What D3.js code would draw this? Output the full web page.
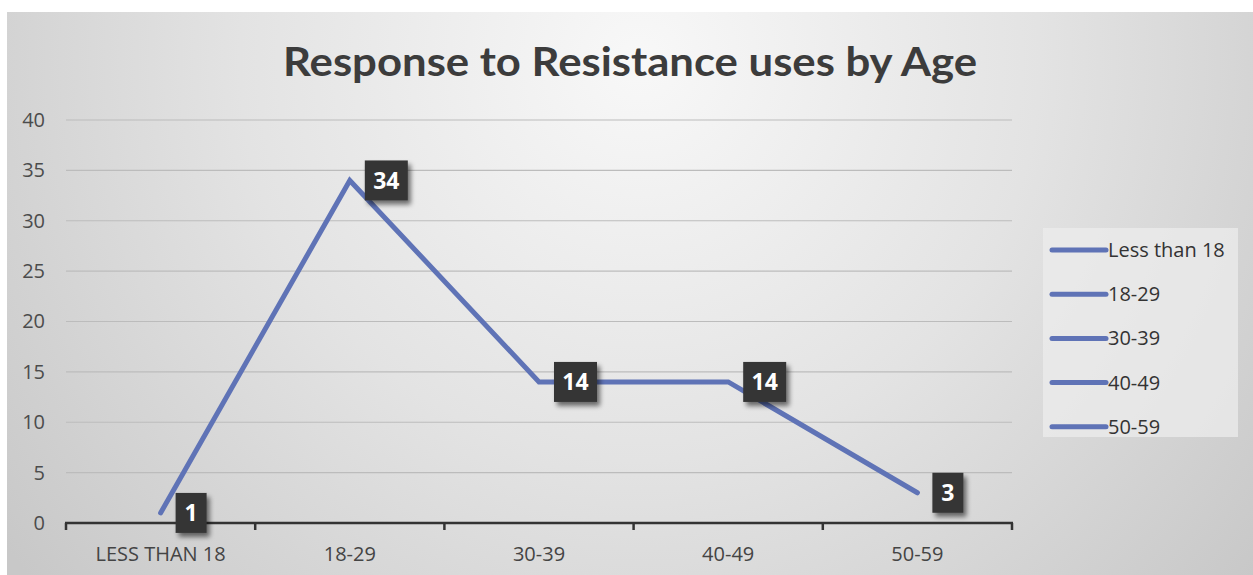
<!DOCTYPE html>
<html>
<head>
<meta charset="utf-8">
<script src="https://cdn.jsdelivr.net/npm/d3@7"></script>
<style>
  html, body { margin: 0; padding: 0; background: #ffffff; }
  svg { display: block; }
</style>
</head>
<body>
<svg id="chart" width="1253" height="575"></svg>
<script>
// Age groups and their counts
const categories = ["Less than 18", "18-29", "30-39", "40-49", "50-59"];
const values = [1, 34, 14, 14, 3];
const legendLabels = ["Less than 18", "18-29", "30-39", "40-49", "50-59"];
const yTicks = [0, 5, 10, 15, 20, 25, 30, 35, 40];
const chartTitle = "Response to Resistance uses by Age";

const W = 1253, H = 575;
const FONT = "'Open Sans', sans-serif";
const svg = d3.select("#chart");
const defs = svg.append("defs");

// Soft radial background
const bg = defs.append("radialGradient")
  .attr("id", "bgGrad")
  .attr("gradientUnits", "userSpaceOnUse")
  .attr("cx", 640).attr("cy", 60).attr("r", 800)
  .attr("fx", 640).attr("fy", 60);
bg.append("stop").attr("offset", "0").attr("stop-color", "#f8f8f8");
bg.append("stop").attr("offset", "0.5").attr("stop-color", "#e3e3e3");
bg.append("stop").attr("offset", "1").attr("stop-color", "#c8c8c8");

// Drop shadow for data labels
const shadow = defs.append("filter").attr("id", "lblShadow")
  .attr("x", "-30%").attr("y", "-30%").attr("width", "170%").attr("height", "170%");
shadow.append("feGaussianBlur").attr("in", "SourceAlpha").attr("stdDeviation", 2.5).attr("result", "b");
shadow.append("feOffset").attr("in", "b").attr("dx", 3).attr("dy", 4).attr("result", "o");
shadow.append("feComponentTransfer").attr("in", "o").attr("result", "s")
  .append("feFuncA").attr("type", "linear").attr("slope", 0.55);
const merge = shadow.append("feMerge");
merge.append("feMergeNode").attr("in", "s");
merge.append("feMergeNode").attr("in", "SourceGraphic");

svg.append("rect").attr("x", 7).attr("y", 12).attr("width", W - 7).attr("height", H - 12)
  .attr("fill", "url(#bgGrad)");

// Title
svg.append("text")
  .attr("x", 630).attr("y", 76)
  .attr("text-anchor", "middle")
  .attr("font-family", "Lato, 'Open Sans', sans-serif")
  .attr("font-weight", 700)
  .attr("font-size", 41)
  .attr("textLength", 694)
  .attr("lengthAdjust", "spacingAndGlyphs")
  .attr("fill", "#3c3c3c")
  .text(chartTitle);

// Scales
const plot = { left: 66, right: 1012, top: 120, bottom: 523 };
const x = d3.scaleBand().domain(categories).range([plot.left, plot.right]).padding(0);
const y = d3.scaleLinear().domain([0, 40]).range([plot.bottom, plot.top]);
const cx = d => x(d) + x.bandwidth() / 2;

// Gridlines
svg.append("g").selectAll("line").data(yTicks.filter(t => t > 0)).join("line")
  .attr("x1", plot.left).attr("x2", plot.right)
  .attr("y1", d => y(d)).attr("y2", d => y(d))
  .attr("stroke", "#bcbcbc").attr("stroke-width", 1.2);

// Y axis labels
const yAxis = d3.axisLeft(y).tickValues(yTicks).tickSize(0).tickPadding(0);
const yg = svg.append("g").attr("transform", "translate(45,0)").call(yAxis);
yg.select(".domain").remove();
yg.selectAll("text")
  .attr("font-family", FONT)
  .attr("font-size", 20)
  .attr("fill", "#4c4c4c");

// X axis
const xAxis = d3.axisBottom(x).tickSize(0).tickPadding(0).tickFormat(d => d.toUpperCase());
const xg = svg.append("g").attr("transform", `translate(0,${plot.bottom})`).call(xAxis);
xg.select(".domain").remove();
xg.selectAll("text")
  .attr("y", 38)
  .attr("dy", 0)
  .attr("font-family", FONT)
  .attr("font-size", 20)
  .attr("fill", "#444");

// Axis line with boundary tick marks
const bounds = [plot.left, ...categories.map(c => x(c) + x.bandwidth())];
svg.append("g").selectAll("line").data(bounds).join("line")
  .attr("x1", d => d).attr("x2", d => d)
  .attr("y1", plot.bottom).attr("y2", plot.bottom + 7)
  .attr("stroke", "#333").attr("stroke-width", 2.5);
svg.append("line")
  .attr("x1", plot.left - 1).attr("x2", plot.right + 1)
  .attr("y1", plot.bottom).attr("y2", plot.bottom)
  .attr("stroke", "#333").attr("stroke-width", 2.5);

// Series line
const pts = categories.map((c, i) => ({ c, v: values[i] }));
svg.append("path")
  .datum(pts)
  .attr("d", d3.line().x(d => cx(d.c)).y(d => y(d.v)))
  .attr("fill", "none")
  .attr("stroke", "#5f73b6")
  .attr("stroke-width", 5)
  .attr("stroke-linecap", "round")
  .attr("stroke-linejoin", "miter");

// Data labels
const lbl = svg.append("g").selectAll("g").data(pts).join("g")
  .attr("transform", d => `translate(${cx(d.c) + 15},${y(d.v)})`);
lbl.each(function (d) {
  const g = d3.select(this);
  const t = String(d.v);
  const w = t.length > 1 ? 43 : 31;
  g.append("rect")
    .attr("x", 0).attr("y", -20).attr("width", w).attr("height", 40)
    .attr("fill", "#363636")
    .attr("filter", "url(#lblShadow)");
  g.append("text")
    .attr("x", w / 2).attr("y", 8.5)
    .attr("text-anchor", "middle")
    .attr("font-family", FONT)
    .attr("font-weight", 700)
    .attr("font-size", 23)
    .attr("fill", "#ffffff")
    .text(t);
});

// Legend
const lg = svg.append("g");
lg.append("rect")
  .attr("x", 1043).attr("y", 228).attr("width", 195).attr("height", 209)
  .attr("fill", "#ececec").attr("fill-opacity", 0.75);
const entries = lg.selectAll("g").data(legendLabels).join("g")
  .attr("transform", (d, i) => `translate(1052,${250 + i * 44.2})`);
entries.append("line")
  .attr("x1", 0).attr("x2", 54).attr("y1", 0).attr("y2", 0)
  .attr("stroke", "#5f73b6").attr("stroke-width", 5).attr("stroke-linecap", "round");
entries.append("text")
  .attr("x", 56).attr("y", 7)
  .attr("font-family", FONT)
  .attr("font-size", 20)
  .attr("fill", "#333")
  .text(d => d);
</script>
</body>
</html>
